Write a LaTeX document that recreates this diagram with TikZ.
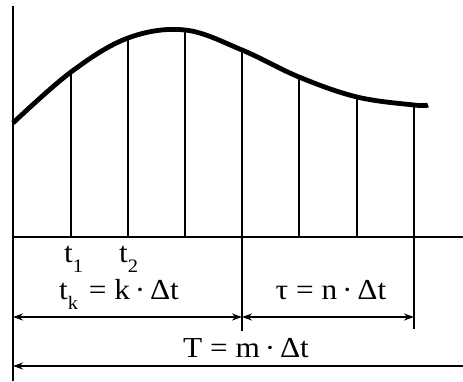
\documentclass[tikz,border=0pt]{standalone}
\usepackage{fontspec}
\newfontfamily\diagfont[FakeStretch=1.08]{Liberation Serif}
\usetikzlibrary{arrows.meta}
\newcommand\mysub[1]{\raisebox{-10pt}{\fontsize{19}{19}\selectfont #1}}
\tikzset{
  axis/.style={line width=2.1pt},
  tick/.style={line width=2.1pt},
  curve/.style={line width=4.8pt},
  dim/.style={line width=2pt, arrows={Stealth[length=10pt,width=7pt]-Stealth[length=10pt,width=7pt]}},
  dimleft/.style={line width=2pt, arrows={Stealth[length=10pt,width=7pt]-}},
  lbl/.style={font=\diagfont\fontsize{29}{29}\selectfont, inner sep=0pt, anchor=base}
}
\begin{document}
\begin{tikzpicture}[x=1pt,y=-1pt]
\useasboundingbox (0,0) rectangle (463,381);
% key points
\coordinate (o) at (13,237);
\coordinate (top) at (13,6);
\coordinate (bot) at (13,381);
\coordinate (xend) at (463,237);
\coordinate (c1) at (71,72);
\coordinate (c2) at (128,38);
\coordinate (c3) at (185,30);
\coordinate (c4) at (242,50);
\coordinate (c5) at (299,77);
\coordinate (c6) at (357,97);
\coordinate (c7) at (414,105);
% axes
\draw[axis] (top) -- (bot);
\draw[axis] (o) -- (xend);
% ordinates
\foreach \c in {c1,c2,c3,c5,c6}{\draw[tick] (\c) -- (\c |- o);}
\coordinate (d4) at (242,331);
\coordinate (d7) at (414,329);
\draw[tick] (c4) -- (d4);
\draw[tick] (c7) -- (d7);
% curve
\draw[curve] plot[smooth, tension=0.6] coordinates {(13,123) (71,72) (128,38) (185,30) (242,50) (299,77) (357,97) (414,105) (428,105)};
% dimension arrows
\coordinate (a1) at (13,317);
\coordinate (a2) at (242,317);
\coordinate (a3) at (414,317);
\coordinate (b1) at (13,366);
\coordinate (b2) at (463,366);
\draw[dim] (a1) -- (a2);
\draw[dim] (a2) -- (a3);
\draw[dimleft] (b1) -- (b2);
% labels
\node[lbl, anchor=base west] (t1) at (64,262) {t\mysub{1}};
\node[lbl, anchor=base west] (t2) at (119,262) {t\mysub{2}};
\node[lbl] (tk) at (119,299) {t\mysub{k}\hspace{3pt} = k\,·\,Δt};
\node[lbl] (tau) at (331,299) {τ = n\,·\,Δt};
\node[lbl] (T) at (246,357) {T = m\,·\,Δt};
\end{tikzpicture}
\end{document}
